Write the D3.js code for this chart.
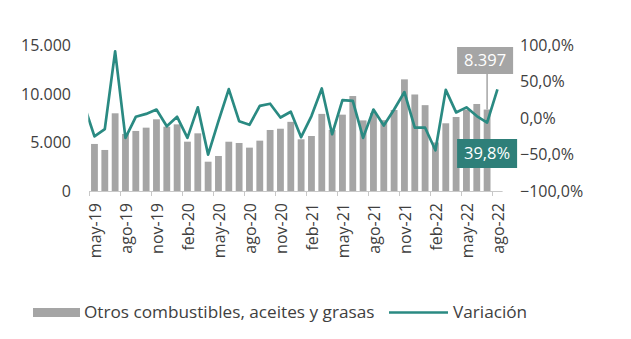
<!DOCTYPE html>
<html>
<head>
<meta charset="utf-8">
<script src="https://cdn.jsdelivr.net/npm/d3@7"></script>
<style>
  html, body { margin: 0; padding: 0; background: #fff; }
  svg { display: block; font-family: "Open Sans", sans-serif; }
</style>
</head>
<body>
<svg id="chart" width="631" height="339"></svg>
<script>
// ---- data ----
const months = ["may-19","jun-19","jul-19","ago-19","sep-19","oct-19","nov-19","dic-19","ene-20","feb-20",
  "mar-20","abr-20","may-20","jun-20","jul-20","ago-20","sep-20","oct-20","nov-20","dic-20",
  "ene-21","feb-21","mar-21","abr-21","may-21","jun-21","jul-21","ago-21","sep-21","oct-21",
  "nov-21","dic-21","ene-22","feb-22","mar-22","abr-22","may-22","jun-22","jul-22","ago-22"];
const combustibles = [4850,4230,8010,5880,6190,6530,7390,6630,6870,5085,
  5945,3020,3610,5080,4950,4470,5190,6290,6420,7130,
  5330,5670,7950,6290,7870,9790,7280,8050,7300,8350,
  11510,9950,8850,5000,6980,7630,8390,8970,8397,null];
const variacion = [-25,-15,92,-27,2,6,12,-11,2,-27,
  15,-50,-4,40,-4,-9,17,20,1,9,
  -26,3,41,-22,25,24,-27,12,-10,12,
  36,-13,-13,-44,39,8,15,3,-6,39.8];
const variacionPrev = 18; // abr-19, clipped at plot edge
const leftTicks = [0,5000,10000,15000];
const rightTicks = [-100,-50,0,50,100];
const seriesNames = ["Otros combustibles, aceites y grasas","Variación"];

// ---- setup ----
const locale = d3.formatLocale({decimal: ",", thousands: ".", grouping: [3], currency: ["", "€"]});
const fmtN = locale.format(",.0f");
const fmtP = v => locale.format(".1f")(v) + "%";

const svg = d3.select("#chart");
const textColor = "#404040";
const barColor = "#a5a5a5";
const lineColor = "#2a8a82";
const boxTeal = "#2e7f79";

const plotL = 89.3, plotR = 502.6, plotT = 45.5, plotB = 191;
const x = d3.scaleBand().domain(months).range([plotL, plotR]).paddingInner(0.34).paddingOuter(0.17);
const yL = d3.scaleLinear().domain([0, 15000]).range([plotB, plotT]);
const yR = d3.scaleLinear().domain([-100, 100]).range([plotB, plotT]);
const bw = x.bandwidth();
const half = x.step() * x.paddingInner() / 2;
const cx = m => x(m) + bw / 2;

// left axis labels
svg.append("g").selectAll("text").data(leftTicks).join("text")
  .attr("x", 71).attr("y", d => yL(d)).attr("dy", "0.35em")
  .attr("text-anchor", "end").attr("font-size", 16).attr("fill", textColor)
  .text(d => fmtN(d));

// right axis labels
svg.append("g").selectAll("text").data(rightTicks).join("text")
  .attr("x", 520).attr("y", d => yR(d)).attr("dy", "0.35em")
  .attr("text-anchor", "start").attr("font-size", 16).attr("fill", textColor)
  .text(d => fmtP(d));

// bars
svg.append("g").selectAll("rect").data(months.map((m, i) => ({m, v: combustibles[i]})).filter(d => d.v != null))
  .join("rect")
  .attr("x", d => x(d.m)).attr("width", bw)
  .attr("y", d => yL(d.v)).attr("height", d => yL(0) - yL(d.v))
  .attr("fill", barColor);

// x axis
const xa = svg.append("g");
xa.append("line").attr("x1", plotL).attr("x2", plotR).attr("y1", plotB + 0.5).attr("y2", plotB + 0.5)
  .attr("stroke", "#c8c8c8").attr("stroke-width", 1);
const tickMonths = months.filter((m, i) => i % 3 === 0);
xa.selectAll("line.tk").data(tickMonths).join("line").attr("class", "tk")
  .attr("x1", d => Math.round(x(d) - half) + 0.5).attr("x2", d => Math.round(x(d) - half) + 0.5)
  .attr("y1", plotB).attr("y2", plotB + 5).attr("stroke", "#c8c8c8");
xa.selectAll("text").data(tickMonths).join("text")
  .attr("transform", d => `translate(${cx(d) + 1},203) rotate(-90)`)
  .attr("dy", "0.35em").attr("text-anchor", "end")
  .attr("font-size", 16).attr("fill", textColor).text(d => d);

// line (clipped to plot area)
svg.append("clipPath").attr("id", "clip").append("rect")
  .attr("x", plotL - 1).attr("y", 0).attr("width", plotR - plotL + 10).attr("height", 339);
const pts = [[cx(months[0]) - x.step(), yR(variacionPrev)]]
  .concat(months.map((m, i) => [cx(m), yR(variacion[i])]));
svg.append("path").attr("clip-path", "url(#clip)")
  .attr("d", d3.line()(pts))
  .attr("fill", "none").attr("stroke", lineColor).attr("stroke-width", 2.7)
  .attr("stroke-linejoin", "round");

// annotations
const lastBarIdx = 38, lastIdx = 39;
const bx = cx(months[lastBarIdx]);
const bTop = yL(combustibles[lastBarIdx]);
svg.append("line").attr("x1", bx).attr("x2", bx).attr("y1", 74).attr("y2", bTop)
  .attr("stroke", barColor).attr("stroke-width", 1.5);
svg.append("rect").attr("x", bx - 30).attr("y", 47).attr("width", 56).attr("height", 27).attr("fill", barColor);
svg.append("text").attr("x", bx - 2).attr("y", 60.5).attr("dy", "0.35em").attr("text-anchor", "middle")
  .attr("font-size", 16.5).attr("fill", "#fff").text(fmtN(combustibles[lastBarIdx]));

svg.append("rect").attr("x", bx - 30).attr("y", 139).attr("width", 60).attr("height", 29).attr("fill", boxTeal);
svg.append("text").attr("x", bx).attr("y", 153.5).attr("dy", "0.35em").attr("text-anchor", "middle")
  .attr("font-size", 16.5).attr("fill", "#fff").text(fmtP(variacion[lastIdx]));

// legend
const lg = svg.append("g");
lg.append("rect").attr("x", 33).attr("y", 308).attr("width", 47).attr("height", 9).attr("fill", barColor);
lg.append("text").attr("x", 84).attr("y", 312).attr("dy", "0.35em").attr("font-size", 17.2)
  .attr("fill", textColor).text(seriesNames[0]);
lg.append("line").attr("x1", 389).attr("x2", 448).attr("y1", 312.5).attr("y2", 312.5)
  .attr("stroke", lineColor).attr("stroke-width", 2.7);
lg.append("text").attr("x", 453).attr("y", 312).attr("dy", "0.35em").attr("font-size", 17.2)
  .attr("fill", textColor).text(seriesNames[1]);
</script>
</body>
</html>
